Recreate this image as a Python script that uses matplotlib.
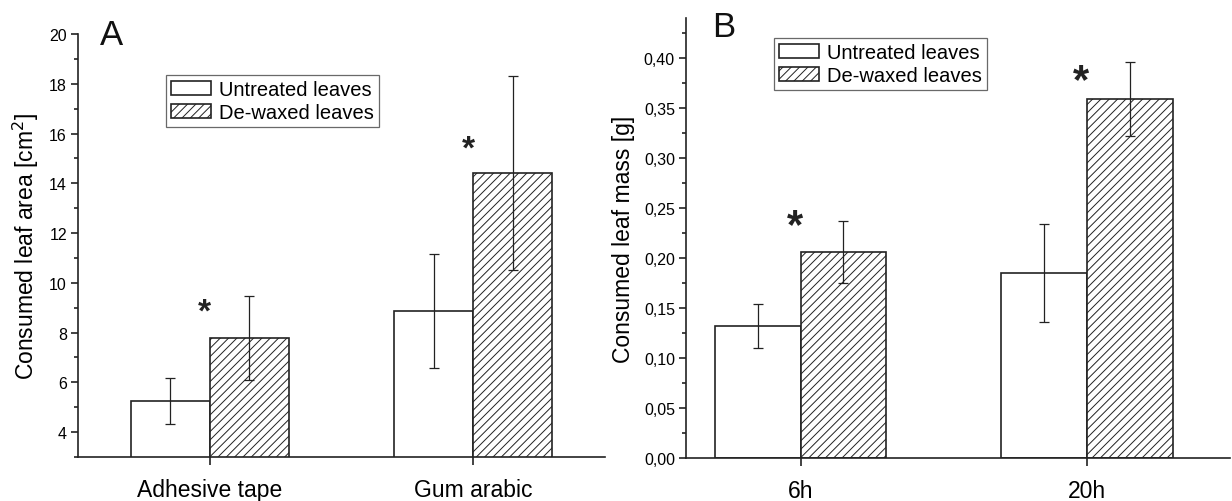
import matplotlib
matplotlib.use("Agg")
import matplotlib.pyplot as plt
from matplotlib.ticker import MultipleLocator, FuncFormatter
import numpy as np

plt.rcParams['font.family'] = ['Liberation Sans', 'DejaVu Sans']
plt.rcParams['hatch.linewidth'] = 0.7

# Panel A: consumed leaf area
area_groups = ["Adhesive tape", "Gum arabic"]
area_untreated = [5.25, 8.87]
area_untreated_err = [0.93, 2.29]
area_dewaxed = [7.78, 14.40]
area_dewaxed_err = [1.70, 3.90]
area_star_y = [9.15, 15.7]

# Panel B: consumed leaf mass
mass_groups = ["6h", "20h"]
mass_untreated = [0.132, 0.185]
mass_untreated_err = [0.022, 0.049]
mass_dewaxed = [0.206, 0.359]
mass_dewaxed_err = [0.031, 0.037]
mass_star_y = [0.242, 0.387]

series_labels = ["Untreated leaves", "De-waxed leaves"]

DARK = "#222222"
W, H = 1232, 502
fig = plt.figure(figsize=(W / 100, H / 100), dpi=100)


def axes_px(left, right, top, bottom):
    return fig.add_axes([left / W, 1 - bottom / H, (right - left) / W, (bottom - top) / H])


axA = axes_px(78, 605, 35, 458)
axB = axes_px(686, 1230, 19, 459)


def draw_panel(ax, groups, unt, unt_err, dew, dew_err, star_y, star_size):
    x = np.arange(len(groups))
    w = 0.3
    ax.bar(x - w / 2, unt, w, color="white", edgecolor=DARK, linewidth=1.2,
           label=series_labels[0], zorder=2)
    ax.bar(x + w / 2, dew, w, color="white", edgecolor=DARK, linewidth=1.2,
           hatch="////", label=series_labels[1], zorder=2)
    ax.errorbar(x - w / 2, unt, yerr=unt_err, fmt="none", ecolor=DARK,
                elinewidth=0.9, capsize=3.5, capthick=0.9, zorder=3)
    ax.errorbar(x + w / 2, dew, yerr=dew_err, fmt="none", ecolor=DARK,
                elinewidth=0.9, capsize=3.5, capthick=0.9, zorder=3)
    for xi, sy in zip(x, star_y):
        ax.annotate("*", (xi - 0.02, sy), xytext=(0, -0.5 * star_size),
                    textcoords="offset points", ha="center", va="baseline",
                    fontsize=star_size, fontweight="bold", color=DARK)
    ax.set_xticks(x)
    ax.set_xticklabels(groups, fontsize=16.5)
    for side in ("top", "right"):
        ax.spines[side].set_visible(False)
    for side in ("left", "bottom"):
        ax.spines[side].set_linewidth(1.2)
        ax.spines[side].set_color(DARK)
    ax.tick_params(axis="x", direction="out", length=6, width=1.2, color=DARK, pad=9)
    ax.tick_params(axis="y", which="major", direction="out", length=5, width=1.2,
                   color=DARK, labelsize=11.5, pad=3)
    ax.tick_params(axis="y", which="minor", direction="out", length=3, width=1.2, color=DARK)
    leg = ax.legend(loc="upper left", frameon=True, fancybox=False, fontsize=14.5,
                    handlelength=2.0, handleheight=0.7, handletextpad=0.4,
                    borderpad=0.25, labelspacing=0.2, borderaxespad=0)
    leg.get_frame().set_edgecolor("#444444")
    leg.get_frame().set_linewidth(0.9)
    return leg


legA = draw_panel(axA, area_groups, area_untreated, area_untreated_err,
                  area_dewaxed, area_dewaxed_err, area_star_y, 24)
axA.set_xlim(-0.5, 1.5)
axA.set_ylim(3, 20)
axA.yaxis.set_major_locator(MultipleLocator(2))
axA.yaxis.set_minor_locator(MultipleLocator(1))
axA.set_yticks(np.arange(4, 21, 2))
axA.set_ylabel("Consumed leaf area [cm$^2$]", fontsize=16.5, labelpad=6)
legA.set_bbox_to_anchor((0.167, 0.903), transform=axA.transAxes)
axA.text(100 / W, 1 - 45 / H, "A", transform=fig.transFigure, fontsize=25,
         ha="left", va="baseline", color="#111111")

legB = draw_panel(axB, mass_groups, mass_untreated, mass_untreated_err,
                  mass_dewaxed, mass_dewaxed_err, mass_star_y, 30)
axB.set_xlim(-0.4, 1.5)
axB.set_ylim(0, 0.44)
axB.yaxis.set_major_locator(MultipleLocator(0.05))
axB.yaxis.set_minor_locator(MultipleLocator(0.025))
axB.yaxis.set_major_formatter(FuncFormatter(lambda v, p: f"{v:.2f}".replace(".", ",")))
axB.set_ylabel("Consumed leaf mass [g]", fontsize=16.5, labelpad=6)
legB.set_bbox_to_anchor((0.162, 0.9545), transform=axB.transAxes)
axB.text(712 / W, 1 - 37 / H, "B", transform=fig.transFigure, fontsize=25,
         ha="left", va="baseline", color="#111111")

fig.savefig("out.png", dpi=100, facecolor="white")
